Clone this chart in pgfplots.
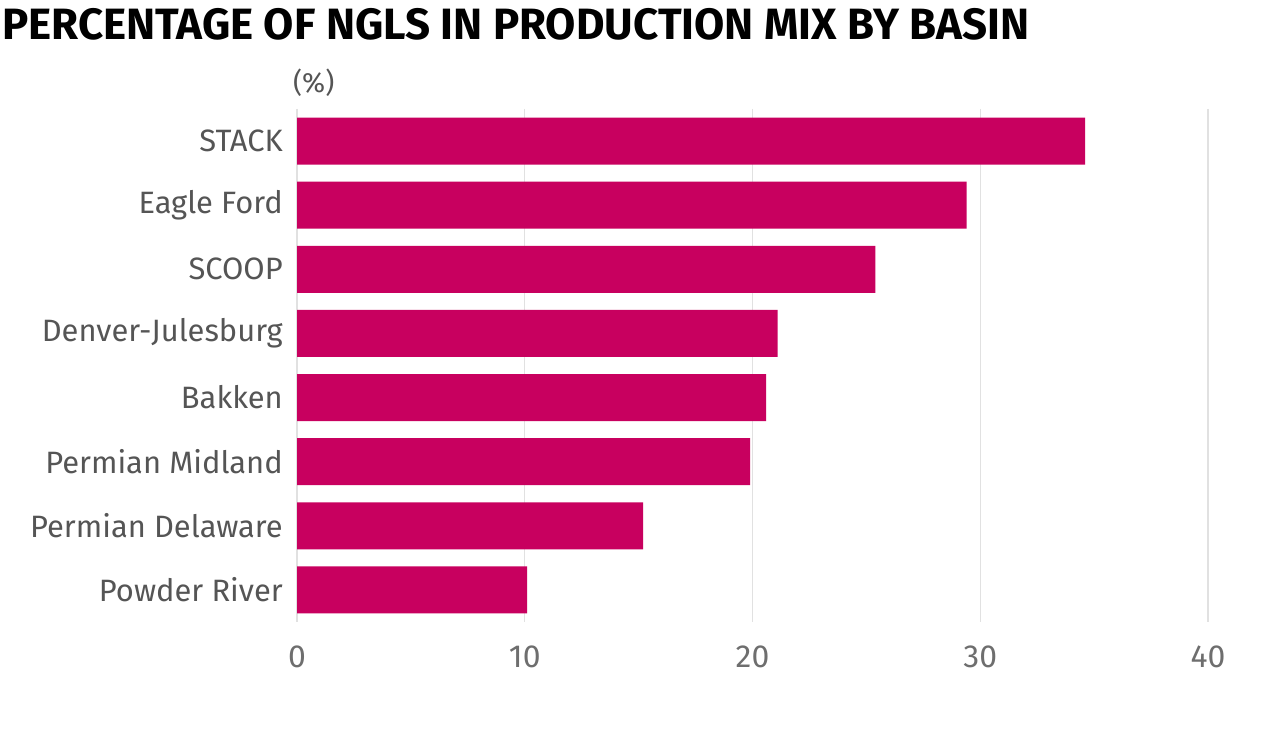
\documentclass[border=0pt]{standalone}
\usepackage{pgfplots}
\pgfplotsset{compat=1.18}
\usepackage{pgfplotstable}
\usepackage{fontspec}
\setmainfont{Fira Sans}
\newfontfamily\titlefont[FakeStretch=1.0]{Fira Sans Bold}
\definecolor{barc}{RGB}{200,0,95}
\definecolor{labc}{RGB}{85,85,85}
\definecolor{tickc}{RGB}{110,110,110}
\definecolor{gridc}{RGB}{225,225,225}
\pgfplotstableread{
label value
STACK 34.6
{Eagle Ford} 29.4
SCOOP 25.4
{Denver-Julesburg} 21.1
Bakken 20.6
{Permian Midland} 19.9
{Permian Delaware} 15.2
{Powder River} 10.1
}\datatable
\begin{document}
\begin{tikzpicture}[x=1bp,y=1bp]
\path[use as bounding box] (0,0) rectangle (1280,741);
\fill[white] (0,0) rectangle (1280,741);
\node[anchor=north west, inner sep=0pt, font=\titlefont\fontsize{44}{48}\selectfont, text=black] at (2,733) {PERCENTAGE OF NGLS IN PRODUCTION MIX BY BASIN};
\begin{axis}[
  at={(297bp,119bp)}, anchor=south west,
  scale only axis, width=911bp, height=513bp,
  xbar, bar width=47bp,
  xmin=0, xmax=40,
  ymin=-0.5, ymax=7.5, y dir=reverse,
  ytick={0,...,7},
  yticklabels from table={\datatable}{label},
  xtick={0,10,20,30,40},
  axis line style={draw=none},
  major tick length=0pt,
  xmajorgrids, grid style={gridc, line width=1.2bp},
  y tick label style={font=\fontsize{31}{34}\selectfont, text=labc, inner sep=0pt, xshift=-14bp},
  x tick label style={font=\fontsize{32}{36}\selectfont, text=tickc, inner sep=0pt, yshift=-24bp},
  /pgf/number format/assume math mode=true,
  clip=false,
]
\addplot[fill=barc, draw=none] table[x=value, y expr=\coordindex] {\datatable};
\node[anchor=south west, inner sep=0pt, font=\fontsize{28}{30}\selectfont, text=labc] at (rel axis cs:0,1) [xshift=-4bp, yshift=12bp] {(\%)};
\end{axis}
\end{tikzpicture}
\end{document}
